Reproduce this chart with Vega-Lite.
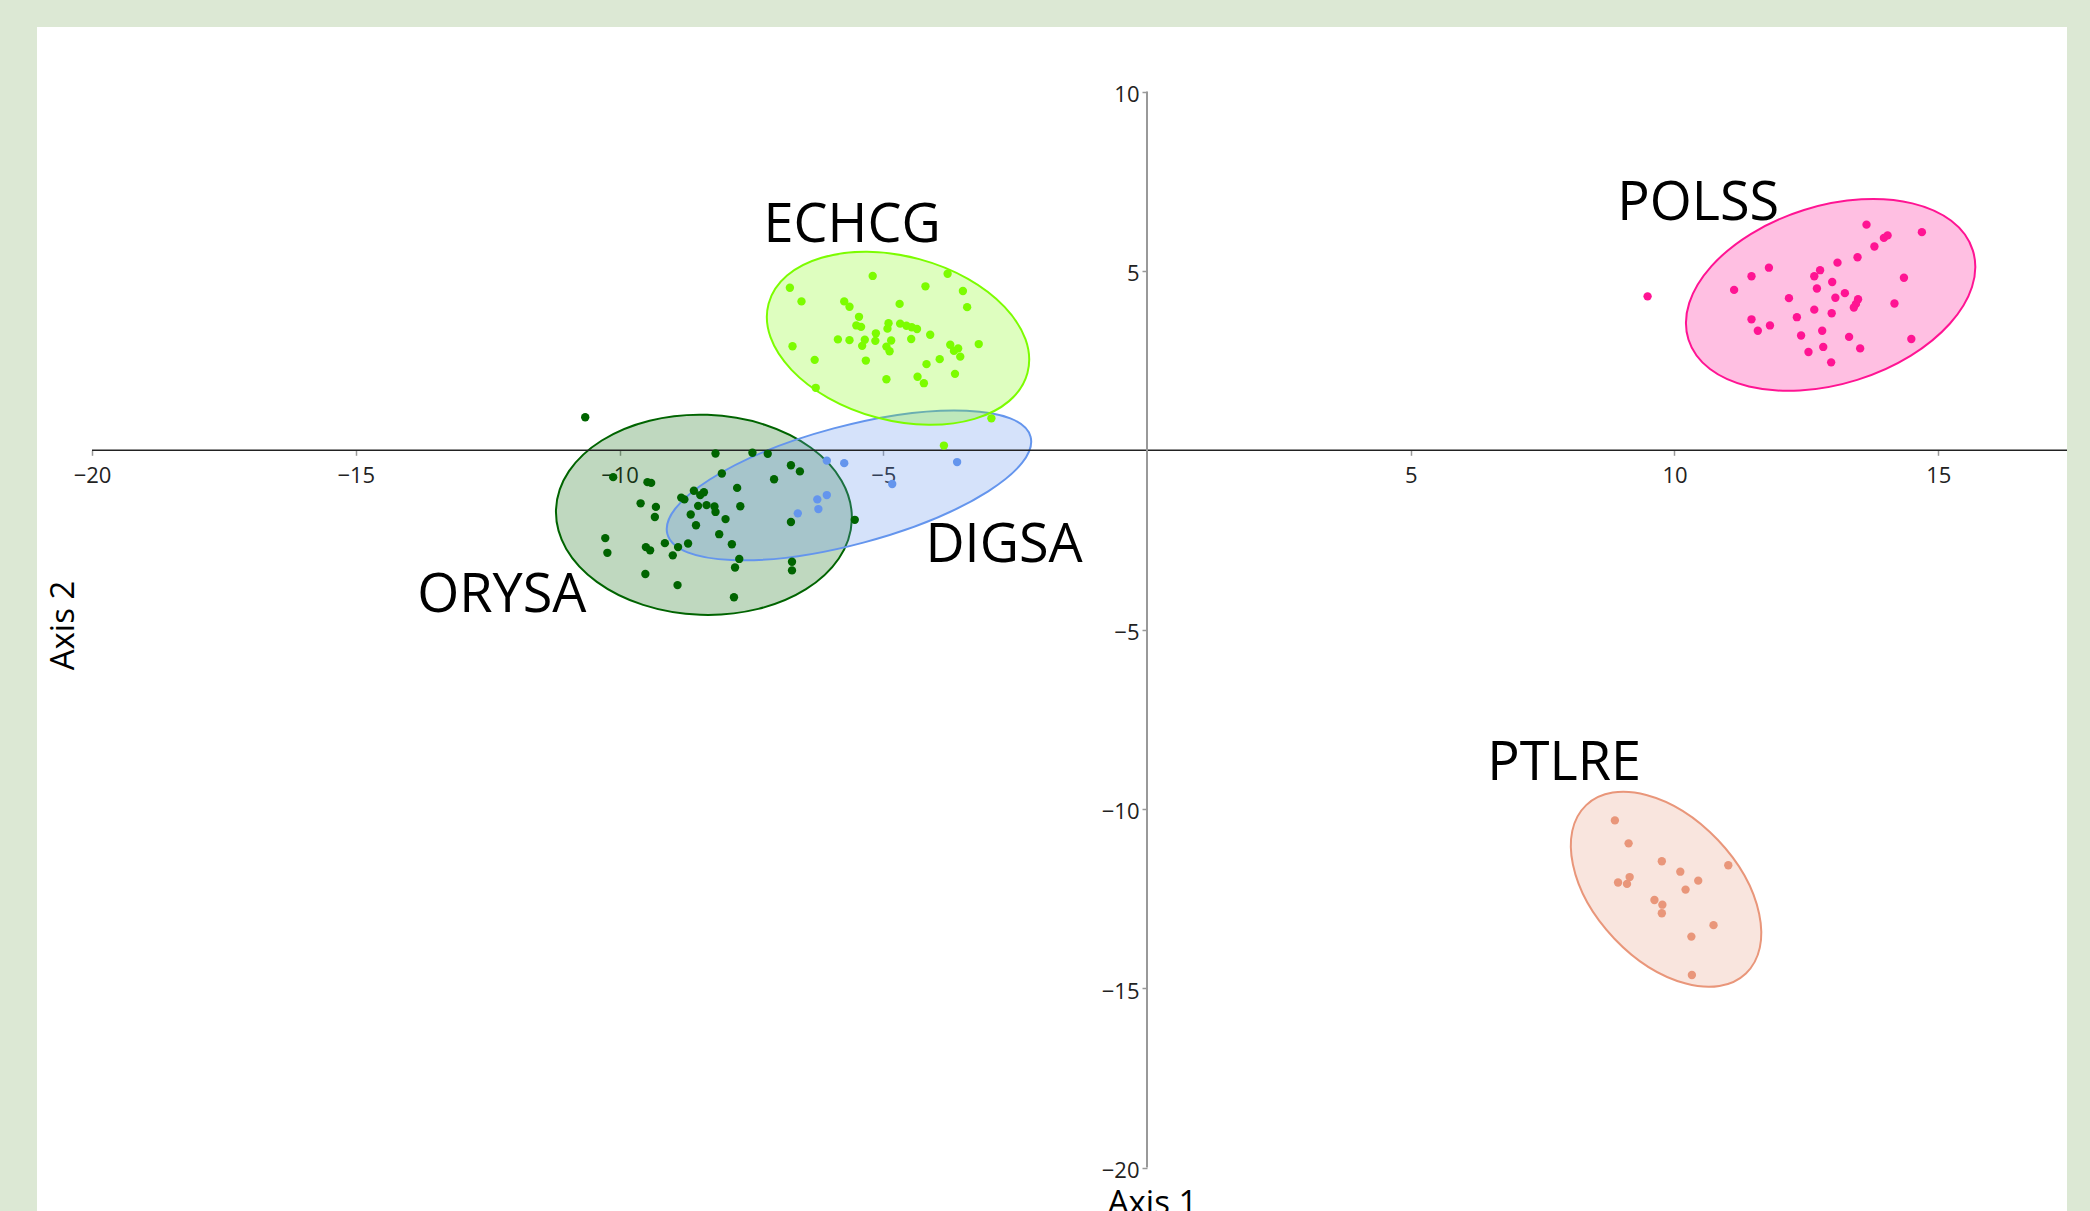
{
  "$schema": "https://vega.github.io/schema/vega-lite/v6.json",
  "autosize": {"type": "none"},
  "padding": {"left": 37, "top": 27, "right": 23, "bottom": 0},
  "width": 2030,
  "height": 1184,
  "background": "#dce8d4",
  "config": {"view": {"fill": "white", "stroke": null}},
  "encoding": {
    "x": {
      "field": "x", "type": "quantitative",
      "scale": {"domain": [-21.043, 17.441], "nice": false, "zero": false},
      "axis": {
        "orient": "bottom", "offset": -760.7, "values": [-20, -15, -10, -5, 5, 10, 15],
        "domain": false, "grid": false, "tickSize": 5, "tickColor": "#999999", "tickWidth": 1.5,
        "labelFont": "Open Sans", "labelFontSize": 22, "labelColor": "#222222", "labelPadding": 10, "labelFlush": false,
        "title": "Axis 1", "titleFont": "Open Sans", "titleFontSize": 33, "titleFontWeight": "normal", "titleColor": "#000000",
        "titleX": 1115, "titleY": 763, "titleAlign": "center", "titleBaseline": "alphabetic"
      }
    },
    "y": {
      "field": "y", "type": "quantitative",
      "scale": {"domain": [-21.21, 11.80], "nice": false, "zero": false},
      "axis": {
        "orient": "left", "offset": -1110, "values": [-20, -15, -10, -5, 5, 10],
        "domain": false, "grid": false, "tickSize": 5, "tickColor": "#999999", "tickWidth": 1.5,
        "labelFont": "Open Sans", "labelFontSize": 22, "labelColor": "#222222", "labelPadding": 3, "labelOffset": 3, "labelFlush": false,
        "title": "Axis 2", "titleFont": "Open Sans", "titleFontSize": 33, "titleFontWeight": "normal", "titleColor": "#000000",
        "titleX": -1084, "titleY": 598, "titleAngle": -90, "titleAlign": "center", "titleBaseline": "middle"
      }
    }
  },
  "layer": [
    {
      "data": {"values": [{"g": "ORYSA", "x": -8.40, "y": -1.80}]},
      "mark": {"type": "point", "shape": "M -148 0 A 148 100 0 0 1 0 -100 A 148 100 0 0 1 148 0 A 148 100 0 0 1 0 100 A 148 100 0 0 1 -148 0 Z", "size": 4, "angle": 2, "filled": true, "fill": "#006400", "fillOpacity": 0.25, "stroke": "#006400", "strokeWidth": 2, "opacity": 1}
    },
    {
      "data": {"values": [{"g": "DIGSA", "x": -5.65, "y": -0.98}]},
      "mark": {"type": "point", "shape": "M -188 0 A 188 59 0 0 1 0 -59 A 188 59 0 0 1 188 0 A 188 59 0 0 1 0 59 A 188 59 0 0 1 -188 0 Z", "size": 4, "angle": -15, "filled": true, "fill": "#6495ED", "fillOpacity": 0.27, "stroke": "#6495ED", "strokeWidth": 2, "opacity": 1}
    },
    {
      "data": {"values": [{"g": "ECHCG", "x": -4.72, "y": 3.12}]},
      "mark": {"type": "point", "shape": "M -134 0 A 134 82 0 0 1 0 -82 A 134 82 0 0 1 134 0 A 134 82 0 0 1 0 82 A 134 82 0 0 1 -134 0 Z", "size": 4, "angle": 15, "filled": true, "fill": "#7CFC00", "fillOpacity": 0.25, "stroke": "#7CFC00", "strokeWidth": 2, "opacity": 1}
    },
    {
      "data": {"values": [{"g": "POLSS", "x": 12.96, "y": 4.33}]},
      "mark": {"type": "point", "shape": "M -149 0 A 149 89 0 0 1 0 -89 A 149 89 0 0 1 149 0 A 149 89 0 0 1 0 89 A 149 89 0 0 1 -149 0 Z", "size": 4, "angle": -17.4, "filled": true, "fill": "#FF1493", "fillOpacity": 0.27, "stroke": "#FF1493", "strokeWidth": 2, "opacity": 1}
    },
    {
      "data": {"values": [{"g": "PTLRE", "x": 9.84, "y": -12.24}]},
      "mark": {"type": "point", "shape": "M -116 0 A 116 71.5 0 0 1 0 -71.5 A 116 71.5 0 0 1 116 0 A 116 71.5 0 0 1 0 71.5 A 116 71.5 0 0 1 -116 0 Z", "size": 4, "angle": 46.5, "filled": true, "fill": "#E9967A", "fillOpacity": 0.25, "stroke": "#E9967A", "strokeWidth": 2, "opacity": 1}
    },
    {
      "data": {"values": [{"x": -20, "x2": 17.441, "y": 0}]},
      "mark": {"type": "rule", "color": "#222222", "strokeWidth": 1.3},
      "encoding": {"x2": {"field": "x2"}}
    },
    {
      "data": {"values": [{"x": 0, "y": 10, "y2": -20}]},
      "mark": {"type": "rule", "color": "#999999", "strokeWidth": 2},
      "encoding": {"y2": {"field": "y2"}}
    },
    {
      "data": {"values": [
        {"g":"ORYSA","x":-10.65,"y":0.92},{"g":"ORYSA","x":-8.18,"y":-0.09},{"g":"ORYSA","x":-7.48,"y":-0.07},{"g":"ORYSA","x":-7.19,"y":-0.10},
        {"g":"ORYSA","x":-6.75,"y":-0.42},{"g":"ORYSA","x":-6.58,"y":-0.59},{"g":"ORYSA","x":-8.06,"y":-0.65},{"g":"ORYSA","x":-10.12,"y":-0.75},
        {"g":"ORYSA","x":-9.47,"y":-0.89},{"g":"ORYSA","x":-9.40,"y":-0.91},{"g":"ORYSA","x":-7.07,"y":-0.81},{"g":"ORYSA","x":-7.77,"y":-1.05},
        {"g":"ORYSA","x":-8.59,"y":-1.13},{"g":"ORYSA","x":-8.40,"y":-1.17},{"g":"ORYSA","x":-8.47,"y":-1.25},{"g":"ORYSA","x":-8.83,"y":-1.32},
        {"g":"ORYSA","x":-8.77,"y":-1.37},{"g":"ORYSA","x":-9.60,"y":-1.48},{"g":"ORYSA","x":-9.31,"y":-1.58},{"g":"ORYSA","x":-8.51,"y":-1.55},
        {"g":"ORYSA","x":-8.35,"y":-1.53},{"g":"ORYSA","x":-8.20,"y":-1.57},{"g":"ORYSA","x":-7.71,"y":-1.56},{"g":"ORYSA","x":-8.18,"y":-1.72},
        {"g":"ORYSA","x":-9.33,"y":-1.86},{"g":"ORYSA","x":-8.65,"y":-1.79},{"g":"ORYSA","x":-7.99,"y":-1.92},{"g":"ORYSA","x":-8.55,"y":-2.09},
        {"g":"ORYSA","x":-6.75,"y":-2.00},{"g":"ORYSA","x":-5.54,"y":-1.94},{"g":"ORYSA","x":-8.11,"y":-2.34},{"g":"ORYSA","x":-10.27,"y":-2.45},
        {"g":"ORYSA","x":-10.23,"y":-2.86},{"g":"ORYSA","x":-9.50,"y":-2.70},{"g":"ORYSA","x":-9.42,"y":-2.79},{"g":"ORYSA","x":-9.14,"y":-2.59},
        {"g":"ORYSA","x":-8.89,"y":-2.70},{"g":"ORYSA","x":-8.70,"y":-2.60},{"g":"ORYSA","x":-8.99,"y":-2.93},{"g":"ORYSA","x":-7.87,"y":-2.62},
        {"g":"ORYSA","x":-7.73,"y":-3.03},{"g":"ORYSA","x":-7.81,"y":-3.27},{"g":"ORYSA","x":-6.73,"y":-3.11},{"g":"ORYSA","x":-6.73,"y":-3.35},
        {"g":"ORYSA","x":-9.51,"y":-3.45},{"g":"ORYSA","x":-8.90,"y":-3.76},{"g":"ORYSA","x":-7.83,"y":-4.10},
        {"g":"DIGSA","x":-6.07,"y":-0.29},{"g":"DIGSA","x":-5.74,"y":-0.36},{"g":"DIGSA","x":-3.60,"y":-0.33},{"g":"DIGSA","x":-4.83,"y":-0.94},
        {"g":"DIGSA","x":-6.07,"y":-1.25},{"g":"DIGSA","x":-6.25,"y":-1.37},{"g":"DIGSA","x":-6.23,"y":-1.64},{"g":"DIGSA","x":-6.62,"y":-1.76},
        {"g":"ECHCG","x":-6.77,"y":4.53},{"g":"ECHCG","x":-6.55,"y":4.15},{"g":"ECHCG","x":-5.20,"y":4.86},{"g":"ECHCG","x":-3.78,"y":4.92},
        {"g":"ECHCG","x":-4.20,"y":4.57},{"g":"ECHCG","x":-3.49,"y":4.44},{"g":"ECHCG","x":-3.41,"y":3.99},{"g":"ECHCG","x":-5.74,"y":4.15},
        {"g":"ECHCG","x":-5.64,"y":4.00},{"g":"ECHCG","x":-4.69,"y":4.08},{"g":"ECHCG","x":-5.46,"y":3.72},{"g":"ECHCG","x":-5.51,"y":3.48},
        {"g":"ECHCG","x":-5.42,"y":3.44},{"g":"ECHCG","x":-4.90,"y":3.54},{"g":"ECHCG","x":-4.92,"y":3.39},{"g":"ECHCG","x":-4.68,"y":3.53},
        {"g":"ECHCG","x":-4.56,"y":3.47},{"g":"ECHCG","x":-4.46,"y":3.43},{"g":"ECHCG","x":-4.36,"y":3.38},{"g":"ECHCG","x":-5.14,"y":3.26},
        {"g":"ECHCG","x":-4.11,"y":3.22},{"g":"ECHCG","x":-5.86,"y":3.09},{"g":"ECHCG","x":-5.64,"y":3.07},{"g":"ECHCG","x":-5.35,"y":3.08},
        {"g":"ECHCG","x":-5.15,"y":3.05},{"g":"ECHCG","x":-4.85,"y":3.06},{"g":"ECHCG","x":-4.47,"y":3.10},{"g":"ECHCG","x":-5.40,"y":2.91},
        {"g":"ECHCG","x":-4.94,"y":2.89},{"g":"ECHCG","x":-4.88,"y":2.76},{"g":"ECHCG","x":-6.72,"y":2.90},{"g":"ECHCG","x":-6.30,"y":2.52},
        {"g":"ECHCG","x":-5.33,"y":2.50},{"g":"ECHCG","x":-3.73,"y":2.94},{"g":"ECHCG","x":-3.58,"y":2.84},{"g":"ECHCG","x":-3.66,"y":2.77},
        {"g":"ECHCG","x":-3.54,"y":2.61},{"g":"ECHCG","x":-3.19,"y":2.96},{"g":"ECHCG","x":-3.93,"y":2.54},{"g":"ECHCG","x":-4.18,"y":2.40},
        {"g":"ECHCG","x":-3.64,"y":2.13},{"g":"ECHCG","x":-4.35,"y":2.05},{"g":"ECHCG","x":-4.23,"y":1.87},{"g":"ECHCG","x":-4.94,"y":1.98},
        {"g":"ECHCG","x":-6.28,"y":1.74},{"g":"ECHCG","x":-2.95,"y":0.89},{"g":"ECHCG","x":-3.85,"y":0.13},
        {"g":"POLSS","x":9.49,"y":4.29},{"g":"POLSS","x":11.13,"y":4.47},{"g":"POLSS","x":11.46,"y":4.85},{"g":"POLSS","x":11.79,"y":5.09},
        {"g":"POLSS","x":11.46,"y":3.65},{"g":"POLSS","x":11.58,"y":3.33},{"g":"POLSS","x":11.81,"y":3.48},{"g":"POLSS","x":12.17,"y":4.24},
        {"g":"POLSS","x":12.32,"y":3.71},{"g":"POLSS","x":12.40,"y":3.20},{"g":"POLSS","x":12.54,"y":2.74},{"g":"POLSS","x":12.65,"y":4.85},
        {"g":"POLSS","x":12.76,"y":5.02},{"g":"POLSS","x":12.70,"y":4.51},{"g":"POLSS","x":12.65,"y":3.92},{"g":"POLSS","x":12.80,"y":3.33},
        {"g":"POLSS","x":12.82,"y":2.88},{"g":"POLSS","x":12.97,"y":2.45},{"g":"POLSS","x":12.99,"y":4.69},{"g":"POLSS","x":12.98,"y":3.82},
        {"g":"POLSS","x":13.05,"y":4.25},{"g":"POLSS","x":13.09,"y":5.23},{"g":"POLSS","x":13.23,"y":4.38},{"g":"POLSS","x":13.31,"y":3.16},
        {"g":"POLSS","x":13.48,"y":4.21},{"g":"POLSS","x":13.44,"y":4.08},{"g":"POLSS","x":13.40,"y":3.98},{"g":"POLSS","x":13.52,"y":2.84},
        {"g":"POLSS","x":13.47,"y":5.38},{"g":"POLSS","x":13.64,"y":6.29},{"g":"POLSS","x":13.79,"y":5.68},{"g":"POLSS","x":13.97,"y":5.92},
        {"g":"POLSS","x":14.04,"y":5.99},{"g":"POLSS","x":14.69,"y":6.08},{"g":"POLSS","x":14.35,"y":4.81},{"g":"POLSS","x":14.17,"y":4.09},
        {"g":"POLSS","x":14.49,"y":3.10},
        {"g":"PTLRE","x":8.87,"y":-10.32},{"g":"PTLRE","x":9.13,"y":-10.96},{"g":"PTLRE","x":8.93,"y":-12.05},{"g":"PTLRE","x":9.10,"y":-12.09},
        {"g":"PTLRE","x":9.15,"y":-11.90},{"g":"PTLRE","x":9.76,"y":-11.46},{"g":"PTLRE","x":10.11,"y":-11.75},{"g":"PTLRE","x":10.45,"y":-12.00},
        {"g":"PTLRE","x":10.21,"y":-12.25},{"g":"PTLRE","x":11.02,"y":-11.57},{"g":"PTLRE","x":9.62,"y":-12.54},{"g":"PTLRE","x":9.77,"y":-12.67},
        {"g":"PTLRE","x":9.76,"y":-12.91},{"g":"PTLRE","x":10.74,"y":-13.24},{"g":"PTLRE","x":10.32,"y":-13.56},{"g":"PTLRE","x":10.33,"y":-14.63}
      ]},
      "mark": {"type": "circle", "size": 70, "opacity": 1},
      "encoding": {
        "color": {
          "field": "g", "type": "nominal", "legend": null,
          "scale": {"domain": ["ORYSA", "ECHCG", "DIGSA", "POLSS", "PTLRE"], "range": ["#006400", "#7CFC00", "#6495ED", "#FF1493", "#E9967A"]}
        }
      }
    },
    {
      "data": {"values": [
        {"g": "ECHCG", "x": -5.59, "y": 5.81},
        {"g": "POLSS", "x": 10.45, "y": 6.42},
        {"g": "DIGSA", "x": -2.71, "y": -3.11},
        {"g": "ORYSA", "x": -12.23, "y": -4.51},
        {"g": "PTLRE", "x": 7.91, "y": -9.19}
      ]},
      "mark": {"type": "text", "font": "Open Sans", "fontSize": 54, "color": "#000000", "align": "center", "baseline": "alphabetic"},
      "encoding": {"text": {"field": "g", "type": "nominal"}}
    }
  ]
}
